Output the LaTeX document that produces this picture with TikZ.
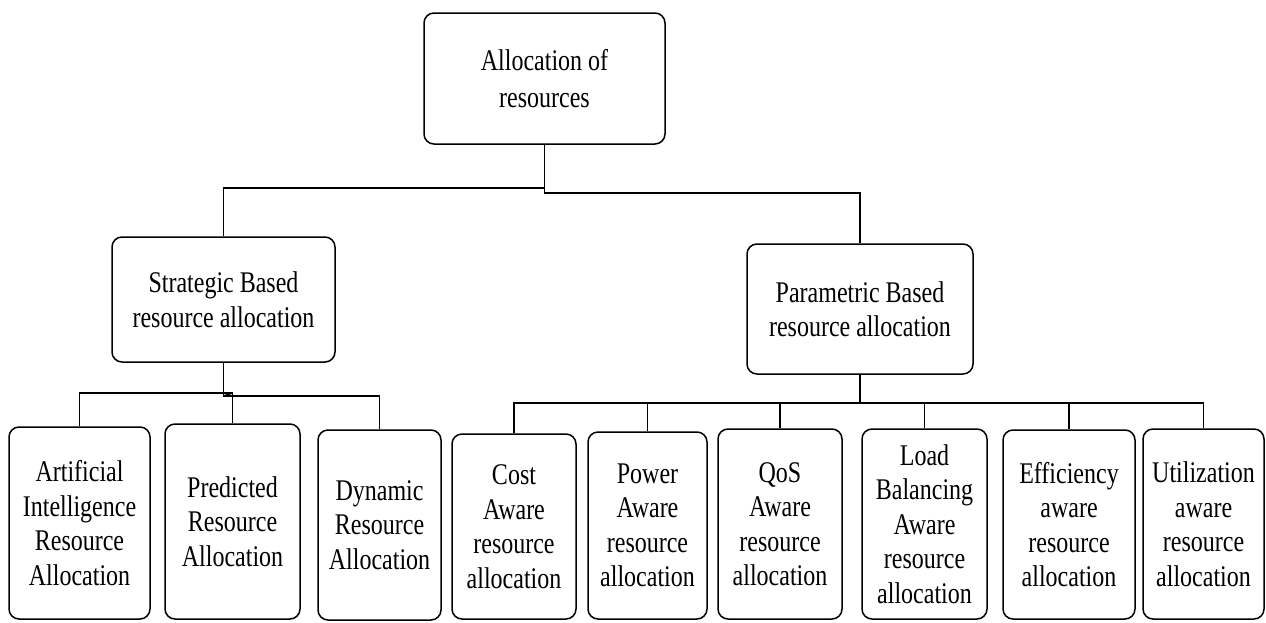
\documentclass[tikz,border=0pt]{standalone}
\usepackage{fontspec}
\setmainfont{Liberation Serif}[FakeStretch=0.8]
\begin{document}
\begin{tikzpicture}[x=1pt,y=-1pt,
  box/.style={draw, line width=1.5pt, rounded corners=10pt, align=center, inner sep=0pt,
    font=\fontsize{30}{34.5}\selectfont},
  conn/.style={line width=1.5pt}]
\useasboundingbox (0,0) rectangle (1266,622);
\fill[white] (0,0) rectangle (1266,622);
% nodes
\node[box, minimum width=241pt, minimum height=131pt, font=\fontsize{30}{37}\selectfont] (root) at (544.5,78.5) {Allocation of\\resources};
\node[box, minimum width=223pt, minimum height=125pt] (strat) at (223.5,299.5) {Strategic Based\\resource allocation};
\node[box, minimum width=226pt, minimum height=130pt] (param) at (860,309) {Parametric Based\\resource allocation};
\node[box, minimum width=141pt, minimum height=192pt] (ai) at (79.5,523) {Artificial\\Intelligence\\Resource\\Allocation};
\node[box, minimum width=135pt, minimum height=195pt] (pred) at (232.5,521.5) {Predicted\\Resource\\Allocation};
\node[box, minimum width=123pt, minimum height=190pt] (dyn) at (379.5,525) {Dynamic\\Resource\\Allocation};
\node[box, minimum width=124pt, minimum height=185pt] (cost) at (514,526.5) {Cost\\Aware\\resource\\allocation};
\node[box, minimum width=119pt, minimum height=187pt] (power) at (647.5,525.5) {Power\\Aware\\resource\\allocation};
\node[box, minimum width=124pt, minimum height=190pt] (qos) at (780,524) {QoS\\Aware\\resource\\allocation};
\node[box, minimum width=125pt, minimum height=190pt] (load) at (924.5,524) {Load\\Balancing\\Aware\\resource\\allocation};
\node[box, minimum width=132pt, minimum height=189pt] (eff) at (1069,524.5) {Efficiency\\aware\\resource\\allocation};
\node[box, minimum width=121pt, minimum height=190pt] (util) at (1203.5,524) {Utilization\\aware\\resource\\allocation};
% top level connectors
\coordinate (jr) at (root.south |- 0,193);
\coordinate (jl) at (root.south |- 0,188);
\draw[conn] (root.south) -- (jr) -- (jr -| param.north) -- (param.north);
\draw[conn] (jl) -- (jl -| strat.north) -- (strat.north);
% strategic children
\coordinate (sb) at (strat.south |- 0,396);
\draw[conn] (strat.south) -- (sb) -- (sb -| dyn.north) -- (dyn.north);
\coordinate (pb) at (pred.north |- 0,393);
\draw[conn] (pred.north) -- (pb) -- (pb -| ai.north) -- (ai.north);
\draw[conn] (pb) -- (sb);
% parametric children
\coordinate (mb) at (param.south |- 0,403);
\draw[conn] (param.south) -- (mb);
\draw[conn] (cost.north) -- (cost.north |- mb) -- (util.north |- mb) -- (util.north);
\draw[line width=2.5pt] (power.north |- mb) -- (mb);
\draw[conn] (power.north) -- (power.north |- mb);
\draw[conn] (qos.north) -- (qos.north |- mb);
\draw[conn] (load.north) -- (load.north |- mb);
\draw[conn] (eff.north) -- (eff.north |- mb);
\end{tikzpicture}
\end{document}
